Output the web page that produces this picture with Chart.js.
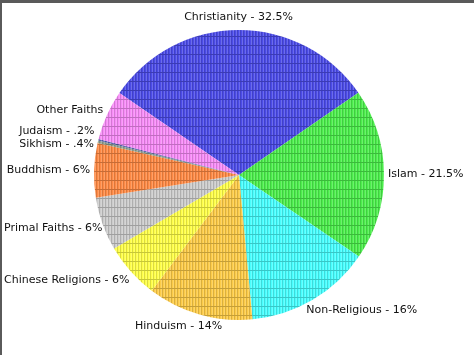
<!DOCTYPE html>
<html><head><meta charset="utf-8">
<script src="https://cdn.jsdelivr.net/npm/chart.js@4"></script>
<style>html,body{margin:0;padding:0;background:#fff;overflow:hidden}canvas{display:block}</style>
</head><body><canvas id="c" width="474" height="355"></canvas>
<script>
// Categories in clockwise order starting at Christianity
const categories = ['Christianity','Islam','Non-Religious','Hinduism','Chinese Religions','Primal Faiths','Buddhism','Sikhism','Judaism','Other Faiths'];
// Slice sizes as drawn in the picture (percent of the circle)
const shares = [30.8, 19.1, 14.0, 11.75, 6.25, 5.95, 6.05, 0.28, 0.17, 5.55];
// Percentages printed on the labels
const statedPct = ['32.5%','21.5%','16%','14%','6%','6%','6%','.4%','.2%', null];
const sliceColors = ['#4b4be8','#4cee4c','#48ffff','#fdcc48','#ffff48','#cccccc','#ff8a45','#8fa08f','#5560b0','#f88cf8'];

function shade(hex, f){
  const n = parseInt(hex.slice(1),16);
  let r = n>>16, g = (n>>8)&255, b = n&255;
  const t = f < 0 ? 0 : 255, p = Math.abs(f);
  r = Math.round(r + (t-r)*p); g = Math.round(g + (t-g)*p); b = Math.round(b + (t-b)*p);
  return `rgb(${r},${g},${b})`;
}
function hatch(hex){
  const t = document.createElement('canvas'); t.width = 3; t.height = 9;
  const x = t.getContext('2d');
  x.fillStyle = hex; x.fillRect(0,0,3,9);
  x.fillStyle = shade(hex,-0.14); x.fillRect(0,0,1,9);
  x.fillStyle = shade(hex,0.18); x.fillRect(2,0,1,9);
  x.fillStyle = shade(hex,-0.22); x.fillRect(0,0,3,1);
  return x.createPattern(t,'repeat');
}

const GAP = 4, LINE = 13, BOX = 17, EDGE = 4;
const outLabels = {
  id: 'outLabels',
  afterDatasetsDraw(chart){
    const ctx = chart.ctx, meta = chart.getDatasetMeta(0);
    ctx.save();
    ctx.font = '11px "DejaVu Sans", Verdana, sans-serif';
    ctx.fillStyle = '#111';
    ctx.textBaseline = 'middle'; ctx.textAlign = 'left';
    const boxes = [];
    meta.data.forEach((arc, i) => {
      const p = arc.getProps(['x','y','startAngle','endAngle','outerRadius'], true);
      const mid = (p.startAngle + p.endAngle)/2;
      const cx = Math.cos(mid), sy = Math.sin(mid);
      const R = p.outerRadius + GAP;
      const ax = p.x + cx*R, ay = p.y + sy*R;
      const text = statedPct[i] ? `${categories[i]} - ${statedPct[i]}` : categories[i];
      const w = ctx.measureText(text).width;
      const fx = 0.5 - 0.5*Math.max(-1, Math.min(1, cx/0.6));
      const fy = (1 - sy)/2;
      const cyText = ay - fy*BOX + BOX/2;
      let left = ax - fx*w;
      left = Math.max(EDGE, Math.min(chart.width - EDGE - w, left));
      boxes.push({text, left, top: cyText - LINE/2, side: cx < 0 ? -1 : 1});
    });
    [-1,1].forEach(side => {
      const list = boxes.filter(b => b.side === side).sort((a,b) => a.top - b.top);
      for (let it = 0; it < 30; it++) {
        for (let k = 1; k < list.length; k++) {
          const d = list[k-1].top + LINE - list[k].top;
          if (d > 0) { list[k-1].top -= d/2; list[k].top += d/2; }
        }
      }
    });
    boxes.forEach(b => ctx.fillText(b.text, b.left, b.top + LINE/2));
    ctx.restore();
  }
};
const frame = {
  id: 'frame',
  beforeDraw(chart){
    const ctx = chart.ctx; ctx.save();
    ctx.fillStyle = '#fff'; ctx.fillRect(0,0,chart.width,chart.height);
    ctx.restore();
  },
  afterDraw(chart){
    const ctx = chart.ctx; ctx.save();
    ctx.fillStyle = '#5a5a5a';
    ctx.fillRect(0,0,chart.width,3);
    ctx.fillRect(0,0,2,chart.height);
    ctx.restore();
  }
};

new Chart(document.getElementById('c'), {
  type: 'pie',
  data: {
    labels: categories,
    datasets: [{ data: shares, backgroundColor: sliceColors.map(hatch), borderWidth: 0 }]
  },
  options: {
    responsive: false,
    animation: false,
    rotation: -55.6,
    layout: { padding: { top: 30, bottom: 35, left: 4, right: 0 } },
    plugins: { legend: { display: false }, tooltip: { enabled: false } }
  },
  plugins: [frame, outLabels]
});
</script>
</body></html>
